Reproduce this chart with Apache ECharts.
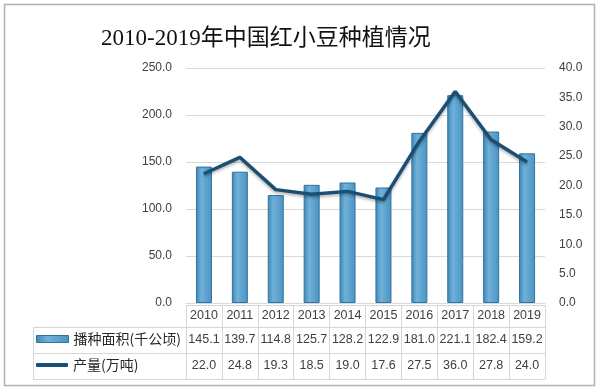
<!DOCTYPE html>
<html><head><meta charset="utf-8">
<script src="https://cdn.jsdelivr.net/npm/echarts@6/dist/echarts.min.js"></script>
<style>html,body{margin:0;padding:0;background:#fff}#c{width:599px;height:391px}</style>
</head><body><div id="c"></div>
<script>
var years = ['2010','2011','2012','2013','2014','2015','2016','2017','2018','2019'];
var area = [145.1,139.7,114.8,125.7,128.2,122.9,181.0,221.1,182.4,159.2];
var prod = [22.0,24.8,19.3,18.5,19.0,17.6,27.5,36.0,27.8,24.0];
var areaName = '播种面积(千公顷)';
var prodName = '产量(万吨)';
var titleText = '2010-2019年中国红小豆种植情况';

var chart = echarts.init(document.getElementById('c'), null, {renderer:'canvas'});
var txt = '#404040';
var tableLine = {show:true, lineStyle:{color:'#d6d6d6', width:1}};
var barColor = new echarts.graphic.LinearGradient(0,0,1,0,[
  {offset:0,color:'#3f86b4'},{offset:0.35,color:'#6fb1da'},{offset:1,color:'#4a93c1'}]);
var legendText = {fontSize:14, color:'#262626', fontFamily:"'Noto Sans CJK SC'"};

chart.setOption({
  animation:false,
  backgroundColor:'#fff',
  title:{text:titleText, left:96, top:22,
    textStyle:{fontFamily:"'Liberation Serif','Noto Sans CJK SC'", fontSize:23, fontWeight:'normal', color:'#111'}},
  graphic:[{type:'rect', shape:{x:4.5,y:4.5,width:590,height:381}, style:{fill:null, stroke:'#b0b0b0', lineWidth:1.5}, silent:true}],
  legend:[
    {data:[{name:areaName, icon:'rect'}], orient:'vertical', left:36, top:332, padding:0, itemWidth:32, itemHeight:7, itemGap:0,
     itemStyle:{borderColor:'#2f739f', borderWidth:1}, textStyle:legendText},
    {data:[{name:prodName, icon:'roundRect'}], orient:'vertical', left:36, top:358, padding:0, itemWidth:32, itemHeight:4, itemGap:0,
     itemStyle:{color:'#1a4e73'}, textStyle:legendText}
  ],
  grid:[
    {left:186, right:54, top:68, bottom:88},
    {left:186, right:54, top:305, height:22},
    {left:186, right:54, top:327, height:52},
    {left:33, width:153, top:327, height:52}
  ],
  xAxis:[
    {type:'category', data:years, gridIndex:0,
     axisLine:{show:true, lineStyle:{color:'#d9d9d9'}}, axisTick:{show:false},
     axisLabel:{margin:2, interval:0,
       formatter:function(v, i){return '{y|'+v+'}\n{a|'+area[i].toFixed(1)+'}\n{b|'+prod[i].toFixed(1)+'}';},
       rich:{
         y:{lineHeight:22, fontSize:12.5, color:txt, fontFamily:"'Liberation Sans'"},
         a:{lineHeight:26, fontSize:12.5, color:txt, fontFamily:"'Liberation Sans'"},
         b:{lineHeight:26, fontSize:12.5, color:txt, fontFamily:"'Liberation Sans'"}
       }}},
    {type:'category', data:years, gridIndex:1, axisLine:{show:false}, axisTick:{show:false}, axisLabel:{show:false},
     splitLine:tableLine},
    {type:'category', data:years, gridIndex:2, axisLine:{show:false}, axisTick:{show:false}, axisLabel:{show:false},
     splitLine:tableLine},
    {type:'category', data:[''], gridIndex:3, axisLine:{show:false}, axisTick:{show:false}, axisLabel:{show:false},
     splitLine:tableLine}
  ],
  yAxis:[
    {type:'value', gridIndex:0, min:0, max:250, interval:50,
     axisLine:{show:false}, axisTick:{show:false},
     axisLabel:{margin:14, color:txt, fontSize:12, fontFamily:"'Liberation Sans'", formatter:function(v){return v.toFixed(1);}},
     splitLine:{show:true, lineStyle:{color:'#d9d9d9', width:1}}},
    {type:'value', gridIndex:0, min:0, max:40, interval:5, position:'right',
     axisLine:{show:false}, axisTick:{show:false}, splitLine:{show:false},
     axisLabel:{margin:14, color:txt, fontSize:12, fontFamily:"'Liberation Sans'", formatter:function(v){return v.toFixed(1);}}},
    {type:'value', gridIndex:1, min:0, max:1, interval:1, axisLine:{show:false}, axisTick:{show:false}, axisLabel:{show:false}, splitLine:tableLine},
    {type:'value', gridIndex:2, min:0, max:2, interval:1, axisLine:{show:false}, axisTick:{show:false}, axisLabel:{show:false}, splitLine:tableLine},
    {type:'value', gridIndex:3, min:0, max:2, interval:1, axisLine:{show:false}, axisTick:{show:false}, axisLabel:{show:false}, splitLine:tableLine}
  ],
  series:[
    {name:areaName, type:'bar', data:area, xAxisIndex:0, yAxisIndex:0, barWidth:16,
     itemStyle:{color:barColor, borderColor:'#2f739f', borderWidth:1}},
    {name:prodName, type:'line', data:prod, xAxisIndex:0, yAxisIndex:1, symbol:'none',
     itemStyle:{color:'#1a4e73'},
     lineStyle:{color:'#1a4e73', width:3.5, shadowColor:'rgba(0,0,0,0.3)', shadowBlur:3, shadowOffsetY:2}}
  ]
});
</script></body></html>
